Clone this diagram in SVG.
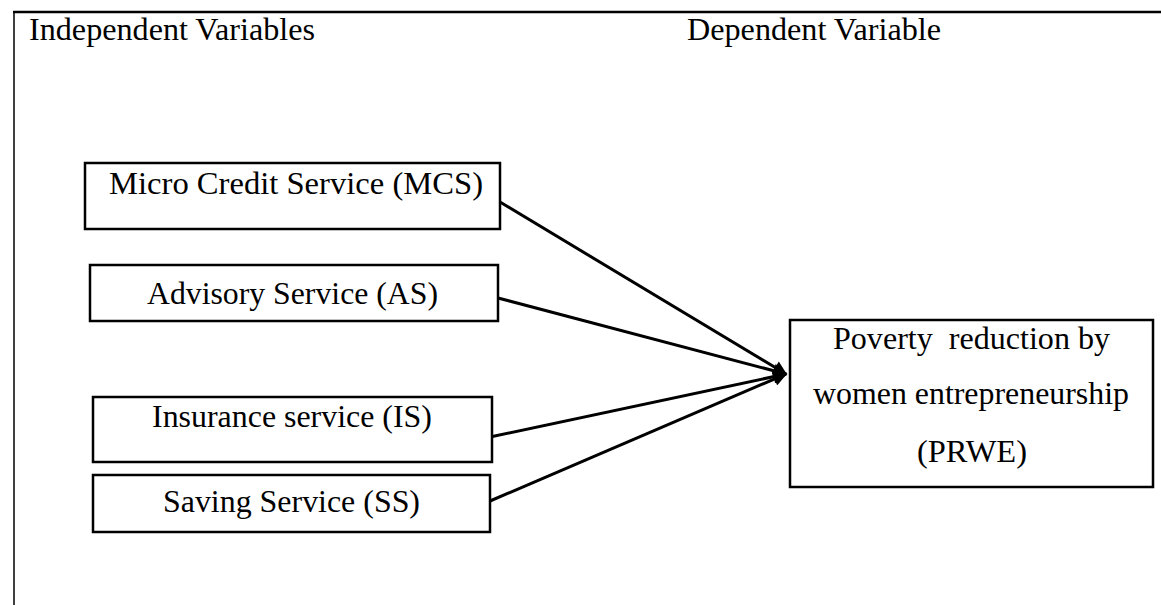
<svg xmlns="http://www.w3.org/2000/svg" width="1161" height="605" viewBox="0 0 1161 605">
<style>
  text { font-family: "Liberation Serif", "Times New Roman", serif; font-size: 32px; fill: #000; }
  .box { fill: #fff; stroke: #000; stroke-width: 2.5; }
  .conn { stroke: #000; stroke-width: 3; fill: none; marker-end: url(#arr); }
</style>
<defs>
  <marker id="arr" viewBox="0 0 10 10" refX="9" refY="5" markerWidth="15" markerHeight="14" markerUnits="userSpaceOnUse" orient="auto">
    <path d="M0,0 L10,5 L0,10 z" fill="#000"/>
  </marker>
</defs>
<rect width="1161" height="605" fill="#fff"/>
<g id="frame">
  <line x1="13" y1="12" x2="1161" y2="12" stroke="#000" stroke-width="2.5"/>
  <line x1="14" y1="12" x2="14" y2="605" stroke="#000" stroke-width="1.5"/>
  <text x="29" y="40" textLength="286" lengthAdjust="spacingAndGlyphs">Independent Variables</text>
  <text x="687" y="40" textLength="254" lengthAdjust="spacingAndGlyphs">Dependent Variable</text>
</g>
<g id="connectors">
  <line class="conn" x1="500" y1="202" x2="786" y2="374"/>
  <line class="conn" x1="498" y1="298" x2="786" y2="374"/>
  <line class="conn" x1="490" y1="437" x2="786" y2="374"/>
  <line class="conn" x1="490" y1="501" x2="786" y2="374"/>
</g>
<g id="MCS">
  <rect class="box" x="85" y="163" width="415" height="66"/>
  <text x="109" y="194" textLength="374" lengthAdjust="spacingAndGlyphs">Micro Credit Service (MCS)</text>
</g>
<g id="AS">
  <rect class="box" x="90" y="265" width="408" height="56"/>
  <text x="147" y="304" textLength="291" lengthAdjust="spacingAndGlyphs">Advisory Service (AS)</text>
</g>
<g id="IS">
  <rect class="box" x="93" y="397" width="399" height="65"/>
  <text x="152" y="427" textLength="280" lengthAdjust="spacingAndGlyphs">Insurance service (IS)</text>
</g>
<g id="SS">
  <rect class="box" x="93" y="475" width="397" height="57"/>
  <text x="163" y="512" textLength="257" lengthAdjust="spacingAndGlyphs">Saving Service (SS)</text>
</g>
<g id="PRWE">
  <rect class="box" x="790" y="320" width="363" height="167"/>
  <text x="833" y="349" textLength="277" lengthAdjust="spacingAndGlyphs" xml:space="preserve">Poverty  reduction by</text>
  <text x="813" y="404" textLength="316" lengthAdjust="spacingAndGlyphs">women entrepreneurship</text>
  <text x="917" y="462" textLength="110" lengthAdjust="spacingAndGlyphs">(PRWE)</text>
</g>
</svg>
